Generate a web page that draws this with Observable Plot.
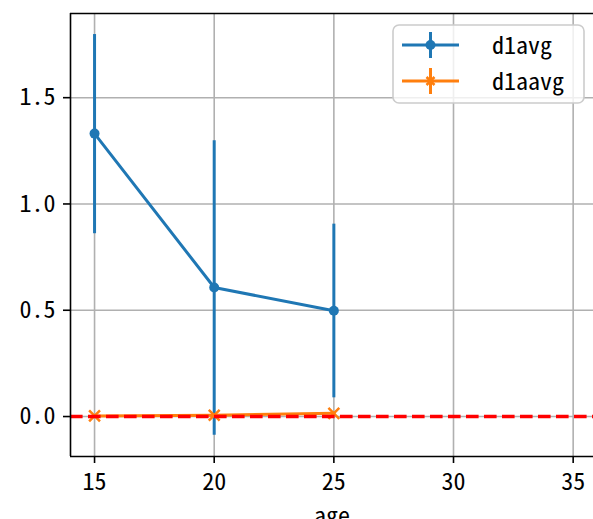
<!DOCTYPE html>
<html>
<head>
<meta charset="utf-8">
<script src="https://cdn.jsdelivr.net/npm/d3@7"></script>
<script src="https://cdn.jsdelivr.net/npm/@observablehq/plot@0.6"></script>
<style>
  html, body { margin: 0; padding: 0; background: #fff; }
  #chart { width: 593px; height: 519px; overflow: hidden; }
</style>
</head>
<body>
<div id="chart"></div>
<script>
const ages = [15, 20, 25];
const d1avg = [1.331, 0.607, 0.498];
const d1avgLo = [0.860, -0.088, 0.088];
const d1avgHi = [1.797, 1.297, 0.905];
const d1aavg = [0.003, 0.006, 0.015];
const d1aavgLo = [0.000, 0.002, 0.010];
const d1aavgHi = [0.006, 0.010, 0.020];
const xTicks = [15, 20, 25, 30, 35];
const yTicks = [0.0, 0.5, 1.0, 1.5];
const seriesNames = ["d1avg", "d1aavg"];
const colors = ["#1f77b4", "#ff7f0e"];

const blue = ages.map((a, i) => ({age: a, v: d1avg[i], lo: d1avgLo[i], hi: d1avgHi[i]}));
const orange = ages.map((a, i) => ({age: a, v: d1aavg[i], lo: d1aavgLo[i], hi: d1aavgHi[i]}));

const xDom = [13.995, 35.85];
const yDom = [-0.188, 1.896];
const font = "'Noto Sans Mono CJK JP', 'Noto Sans CJK JP', sans-serif";
const fs = 24;

const plot = Plot.plot({
  width: 593,
  height: 519,
  marginLeft: 70,
  marginRight: 0,
  marginTop: 13,
  marginBottom: 63,
  style: {fontFamily: font, fontSize: fs + "px", color: "#000", background: "#fff"},
  x: {domain: xDom},
  y: {domain: yDom},
  marks: [
    Plot.gridX(xTicks, {stroke: "#b0b0b0", strokeOpacity: 1, strokeWidth: 1.6}),
    Plot.gridY(yTicks, {stroke: "#b0b0b0", strokeOpacity: 1, strokeWidth: 1.6}),
    Plot.ruleX(blue, {x: "age", y1: "lo", y2: "hi", stroke: colors[0], strokeWidth: 3}),
    Plot.line(blue, {x: "age", y: "v", stroke: colors[0], strokeWidth: 3}),
    Plot.dot(blue, {x: "age", y: "v", r: 5, fill: colors[0], stroke: "none"}),
    Plot.ruleX(orange, {x: "age", y1: "lo", y2: "hi", stroke: colors[1], strokeWidth: 3}),
    Plot.line(orange, {x: "age", y: "v", stroke: colors[1], strokeWidth: 3}),
    Plot.dot(orange, {x: "age", y: "v", r: 5, symbol: "times", stroke: colors[1], strokeWidth: 2.5}),
    Plot.ruleY([0], {stroke: "red", strokeWidth: 3.4, strokeDasharray: "12.6,5.4"}),
    Plot.ruleX([xDom[0]], {stroke: "#000", strokeWidth: 1.6}),
    Plot.ruleY([yDom[0]], {stroke: "#000", strokeWidth: 1.6}),
    Plot.ruleY([yDom[1]], {stroke: "#000", strokeWidth: 1.6}),
    Plot.axisX({ticks: xTicks, tickSize: 7, tickPadding: 9, strokeWidth: 1.6, label: null, fontSize: fs, tickFormat: d => String(d)}),
    Plot.axisY({ticks: yTicks, tickSize: 7, tickPadding: 8, strokeWidth: 1.6, label: null, fontSize: fs, tickFormat: d3.format(".1f")}),
    Plot.text(["age"], {frameAnchor: "bottom", dy: 67, text: d => d, fontSize: fs, fill: "#000"})
  ]
});

document.getElementById("chart").appendChild(plot);

// Legend
const svg = d3.select(plot);
const lg = svg.append("g");
lg.append("rect").attr("x", 393).attr("y", 25).attr("width", 191).attr("height", 78)
  .attr("rx", 6).attr("fill", "#fff").attr("fill-opacity", 0.8)
  .attr("stroke", "#cccccc").attr("stroke-width", 1.6);
const rows = [45, 81];
seriesNames.forEach((name, i) => {
  const y = rows[i];
  const c = colors[i];
  lg.append("line").attr("x1", 402).attr("x2", 459).attr("y1", y).attr("y2", y)
    .attr("stroke", c).attr("stroke-width", 3);
  lg.append("line").attr("x1", 430.5).attr("x2", 430.5).attr("y1", y - 13).attr("y2", y + 13)
    .attr("stroke", c).attr("stroke-width", 3);
  if (i === 0) {
    lg.append("circle").attr("cx", 430.5).attr("cy", y).attr("r", 5).attr("fill", c);
  } else {
    lg.append("path").attr("d", `M${430.5-4},${y-4}L${430.5+4},${y+4}M${430.5-4},${y+4}L${430.5+4},${y-4}`)
      .attr("stroke", c).attr("stroke-width", 2.5);
  }
  lg.append("text").attr("x", 492).attr("y", y + 9).attr("font-size", fs)
    .attr("text-anchor", "start")
    .attr("font-family", font).attr("fill", "#000").text(name);
});
</script>
</body>
</html>
